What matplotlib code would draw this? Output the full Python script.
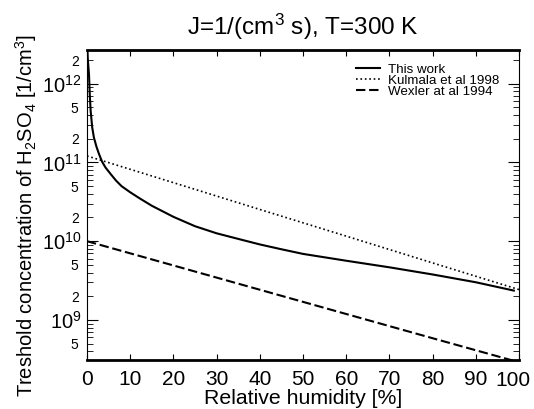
import matplotlib
matplotlib.use("Agg")
from matplotlib import pyplot as plt
from matplotlib.ticker import LogLocator, FuncFormatter
from matplotlib.transforms import blended_transform_factory
import numpy as np

plt.rcParams['font.family'] = ['Liberation Sans', 'DejaVu Sans']
plt.rcParams['mathtext.default'] = 'regular'

# values
rh_this = [0, 0.2, 0.46, 0.65, 0.85, 1.2, 1.6, 2.2, 2.8, 3.5, 4.3, 5.5, 6.7, 8, 9.95, 12.3,
           15, 20, 25, 30, 35, 40, 45, 50, 60, 70, 80, 90, 98.8]
c_this = [3.5e12, 2.0e12, 1.32e12, 7.1e11, 4.5e11, 2.8e11, 2.07e11, 1.58e11, 1.27e11,
          1.02e11, 8.6e10, 7.1e10, 5.9e10, 5.0e10, 4.2e10, 3.47e10,
          2.82e10, 2.04e10, 1.55e10, 1.26e10, 1.07e10, 9.1e9, 7.9e9, 6.9e9,
          5.65e9, 4.66e9, 3.78e9, 3.01e9, 2.36e9]

rh_kulmala = [0, 20, 40, 60, 80, 100]
c_kulmala = [1.21e11, 5.54e10, 2.53e10, 1.16e10, 5.3e9, 2.43e9]

rh_wexler = [0, 20, 40, 60, 80, 100]
c_wexler = [1.0e10, 4.92e9, 2.42e9, 1.19e9, 5.86e8, 2.9e8]

x_ticks = list(range(0, 101, 10))

fig = plt.figure(figsize=(5.34, 4.09), dpi=100)
ax = fig.add_axes([87 / 534, 1 - 360 / 409, 432 / 534, 310 / 409])

ax.plot(rh_this, c_this, '-', color='k', lw=1.5, label='This work')
ax.plot(rh_kulmala, c_kulmala, ':', color='k', lw=1.2, label='Kulmala et al 1998')
ax.plot(rh_wexler, c_wexler, color='k', lw=1.5, dashes=(4.5, 1.8), label='Wexler at al 1994')

ax.set_yscale('log')
ax.set_xlim(0, 100)
ax.set_ylim(3.1e8, 2.68e12)

# last label ("100") is drawn by hand, slightly left, so it stays in the figure
ax.set_xticks(x_ticks, [str(t) for t in x_ticks[:-1]] + [''])
tr = blended_transform_factory(ax.transData, ax.transAxes)
ax.text(x_ticks[-1] - 1.5, -0.035, str(x_ticks[-1]), transform=tr,
        ha='center', va='top', fontsize=15)

ax.yaxis.set_major_locator(LogLocator(base=10, subs=(1.0,)))
ax.yaxis.set_minor_locator(LogLocator(base=10, subs=np.arange(2, 10), numticks=20))


def major_fmt(v, pos):
    return r'$10^{%d}$' % round(np.log10(v))


def minor_fmt(v, pos):
    m = round(v / 10 ** np.floor(np.log10(v) + 1e-9))
    return str(m) if m in (2, 5) else ''


ax.yaxis.set_major_formatter(FuncFormatter(major_fmt))
ax.yaxis.set_minor_formatter(FuncFormatter(minor_fmt))

ax.tick_params(axis='both', which='both', direction='in', top=True, right=True)
ax.tick_params(axis='x', which='major', length=4, labelsize=15, pad=7)
ax.tick_params(axis='y', which='major', length=8, labelsize=14.5, pad=4)
ax.tick_params(axis='y', which='minor', length=4, labelsize=10, pad=6)

for s in ('top', 'bottom'):
    ax.spines[s].set_linewidth(2)
for s in ('left', 'right'):
    ax.spines[s].set_linewidth(0.8)

ax.set_xlabel('Relative humidity [%]', fontsize=15.3)
ax.xaxis.set_label_coords(0.5, -0.093)
ax.set_ylabel(r'Treshold concentration of H$_2$SO$_4$ [1/cm$^3$]', fontsize=14.5)
ax.yaxis.set_label_coords(-0.112, 0.465)
ax.set_title(r'J=1/(cm$^3$ s), T=300 K', fontsize=17.5, pad=11)

ax.legend(loc='upper right', bbox_to_anchor=(0.967, 0.974), borderaxespad=0,
          frameon=False, fontsize=9.6, handlelength=1.8,
          labelspacing=-0.1, handletextpad=0.6)

fig.savefig('out.png', dpi=100)
